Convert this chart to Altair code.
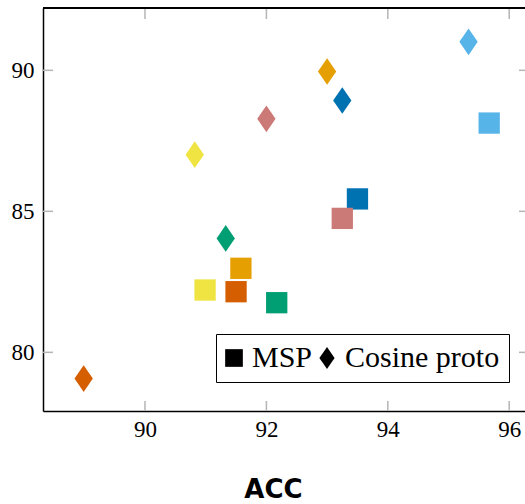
import altair as alt
import pandas as pd

# ---- data ----
models = ["sky", "orange", "blue", "rose", "yellow", "green", "vermillion"]
colors = ["#56B4E9", "#E69F00", "#0072B2", "#CC7A78", "#F0E442", "#009E73", "#D55E00"]
msp_acc = [95.67, 91.58, 93.50, 93.25, 90.99, 92.17, 91.50]
msp_val = [88.13, 82.98, 85.44, 84.75, 82.21, 81.76, 82.15]
cos_acc = [95.33, 93.00, 93.25, 92.00, 90.82, 91.33, 88.99]
cos_val = [91.01, 89.96, 88.93, 88.28, 87.01, 84.04, 79.07]
methods = ["MSP", "Cosine proto"]
x_ticks = [90, 92, 94, 96]
y_ticks = [80, 85, 90]

rows = []
for m, a, v in zip(models, msp_acc, msp_val):
    rows.append({"model": m, "method": "MSP", "acc": a, "val": v})
for m, a, v in zip(models, cos_acc, cos_val):
    rows.append({"model": m, "method": "Cosine proto", "acc": a, "val": v})
df = pd.DataFrame(rows)
xt = pd.DataFrame({"acc": x_ticks})
yt = pd.DataFrame({"val": y_ticks})

W, H = 482, 403
DIAMOND = "M0,-1.25L0.86,0L0,1.25L-0.86,0Z"
xscale = alt.Scale(domain=[88.32, 96.26], nice=False, zero=False)
yscale = alt.Scale(domain=[77.92, 92.21], nice=False, zero=False)
TICK = "#b5b5b5"

xaxis = alt.Axis(values=x_ticks, format="d", ticks=False, tickSize=0, grid=False,
                 labelFont="Liberation Serif", labelFontSize=23, labelColor="black",
                 labelPadding=7, domainColor="black", domainWidth=1.5,
                 titleFont="DejaVu Sans", titleFontWeight="bold", titleFontSize=26,
                 titleColor="black", titleX=230, titleY=86, titleAlign="center",
                 titleBaseline="alphabetic")
yaxis = alt.Axis(values=y_ticks, format="d", ticks=False, tickSize=0, grid=False,
                 labelFont="Liberation Serif", labelFontSize=23, labelColor="black",
                 labelPadding=9, domainColor="black", domainWidth=1.5)

points = alt.Chart(df).mark_point(filled=True, opacity=1, size=454).encode(
    x=alt.X("acc:Q", scale=xscale, title="ACC", axis=xaxis),
    y=alt.Y("val:Q", scale=yscale, title=None, axis=yaxis),
    color=alt.Color("model:N", scale=alt.Scale(domain=models, range=colors), legend=None),
    shape=alt.Shape("method:N",
                    scale=alt.Scale(domain=methods, range=["square", DIAMOND]),
                    legend=alt.Legend(title=None, orient="none", legendX=173, legendY=326,
                                      direction="horizontal", strokeColor="black",
                                      fillColor="white", padding=9, symbolSize=313,
                                      symbolFillColor="black", symbolStrokeColor="black",
                                      symbolStrokeWidth=0, symbolOpacity=1, symbolOffset=-6,
                                      labelFont="Liberation Serif", labelFontSize=30,
                                      labelColor="black", labelOffset=3, columnPadding=5)),
)

top_ticks = alt.Chart(xt).mark_rule(color=TICK, strokeWidth=1.5).encode(
    x=alt.X("acc:Q", scale=xscale, title="ACC", axis=xaxis), y=alt.value(0), y2=alt.value(11))
bot_ticks = alt.Chart(xt).mark_rule(color=TICK, strokeWidth=1.5).encode(
    x=alt.X("acc:Q", scale=xscale, title="ACC", axis=xaxis), y=alt.value(H - 10), y2=alt.value(H))
left_ticks = alt.Chart(yt).mark_rule(color=TICK, strokeWidth=1.5).encode(
    y=alt.Y("val:Q", scale=yscale, title=None, axis=yaxis), x=alt.value(0), x2=alt.value(10))
right_ticks = alt.Chart(yt).mark_rule(color=TICK, strokeWidth=1.5).encode(
    y=alt.Y("val:Q", scale=yscale, title=None, axis=yaxis), x=alt.value(W - 6), x2=alt.value(W))
top_line = alt.Chart(xt).mark_rule(color="black", strokeWidth=1.5).encode(
    y=alt.value(0), x=alt.value(0), x2=alt.value(W))

chart = alt.layer(points, top_ticks, bot_ticks, left_ticks, right_ticks, top_line).properties(
    width=W, height=H,
    autosize=alt.AutoSizeParams(type="none"),
    padding={"left": 43, "top": 8, "right": 0, "bottom": 93},
).configure_view(stroke=None).configure(background="white")

chart.save("out.html", embed_options={"renderer": "svg", "actions": False})
